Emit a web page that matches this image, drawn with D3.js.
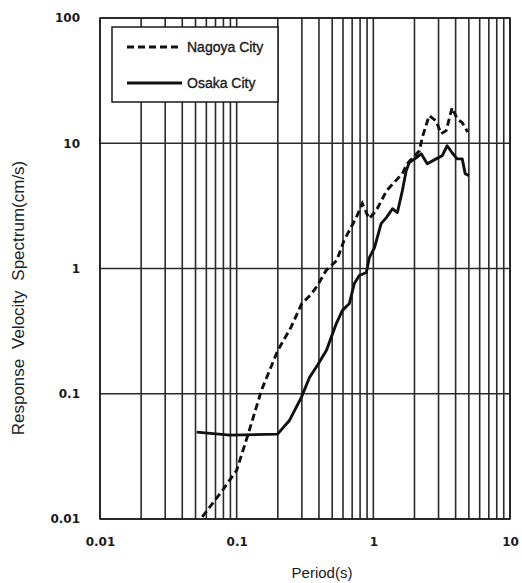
<!DOCTYPE html>
<html>
<head>
<meta charset="utf-8">
<script src="https://cdn.jsdelivr.net/npm/d3@7"></script>
<style>
  body { margin: 0; background: #fff; }
  svg { display: block; }
</style>
</head>
<body>
<svg id="chart"></svg>
<script>
// values
const nagoyaPeriod = [0.056, 0.079, 0.1, 0.122, 0.152, 0.2, 0.25, 0.3, 0.35, 0.39, 0.45, 0.54, 0.61, 0.75, 0.83, 0.93, 1.05, 1.25, 1.63, 1.77, 2.17, 2.28, 2.56, 2.88, 3.13, 3.41, 3.77, 4.1, 4.47, 4.9]
const nagoyaVel = [0.0104, 0.017, 0.0245, 0.0485, 0.107, 0.222, 0.34, 0.526, 0.62, 0.73, 0.96, 1.16, 1.67, 2.55, 3.3, 2.5, 2.9, 4.18, 5.72, 6.87, 8.7, 11.1, 16.6, 15.1, 11.9, 12.6, 19.2, 15.7, 14.6, 12.3]

const osakaPeriod = [0.051, 0.089, 0.199, 0.244, 0.298, 0.341, 0.39, 0.454, 0.537, 0.594, 0.668, 0.726, 0.79, 0.889, 0.935, 1.02, 1.14, 1.245, 1.38, 1.5, 1.63, 1.74, 1.83, 2.06, 2.24, 2.48, 2.88, 3.19, 3.47, 3.77, 4.1, 4.47, 4.7, 5.02]
const osakaVel = [0.0494, 0.0467, 0.0476, 0.0615, 0.094, 0.135, 0.169, 0.222, 0.365, 0.463, 0.526, 0.759, 0.879, 0.929, 1.22, 1.47, 2.28, 2.55, 3.0, 2.8, 4.18, 6.04, 7.0, 7.66, 8.24, 6.87, 7.5, 7.95, 9.55, 8.4, 7.5, 7.5, 5.72, 5.5]

const xTicks = [0.01, 0.1, 1, 10]
const yTicks = [0.01, 0.1, 1, 10, 100]
const xTickLabels = ['0.01', '0.1', '1', '10']
const yTickLabels = ['0.01', '0.1', '1', '10', '100']
const seriesNames = ['Nagoya City', 'Osaka City']

const W = 522, H = 583
const plot = { left: 100, right: 510, top: 18, bottom: 519 }
const ink = '#1a1a1a'
const dash = '7,4'

const svg = d3.select('#chart').attr('width', W).attr('height', H)

const x = d3.scaleLog().domain([0.01, 10]).range([plot.left, plot.right])
const y = d3.scaleLog().domain([0.01, 100]).range([plot.bottom, plot.top])

// vertical grid on every minor period, horizontal only on decades
svg.append('g').selectAll('line').data(x.ticks())
  .join('line')
  .attr('x1', d => x(d)).attr('x2', d => x(d))
  .attr('y1', plot.top).attr('y2', plot.bottom)
  .attr('stroke', '#2a2a2a').attr('stroke-width', 1.6)

svg.append('g').selectAll('line').data(yTicks)
  .join('line')
  .attr('x1', plot.left).attr('x2', plot.right)
  .attr('y1', d => y(d)).attr('y2', d => y(d))
  .attr('stroke', '#2a2a2a').attr('stroke-width', 1.3)

svg.append('rect')
  .attr('x', plot.left).attr('y', plot.top)
  .attr('width', plot.right - plot.left).attr('height', plot.bottom - plot.top)
  .attr('fill', 'none').attr('stroke', ink).attr('stroke-width', 1.5)

// axes (labels only)
const xAxis = svg.append('g')
  .attr('transform', 'translate(0,' + (plot.bottom + 15) + ')')
  .call(d3.axisBottom(x).tickValues(xTicks).tickSize(0).tickFormat((d, i) => xTickLabels[i]))
xAxis.select('.domain').remove()
xAxis.selectAll('text').attr('font-family', 'DejaVu Sans').attr('font-weight', 'bold')
  .attr('font-size', 12).attr('fill', ink)

const yAxis = svg.append('g')
  .attr('transform', 'translate(' + (plot.left - 17) + ',0)')
  .call(d3.axisLeft(y).tickValues(yTicks).tickSize(0).tickFormat((d, i) => yTickLabels[i]))
yAxis.select('.domain').remove()
yAxis.selectAll('text').attr('font-family', 'DejaVu Sans').attr('font-weight', 'bold')
  .attr('font-size', 12).attr('fill', ink)

// series
const line = d3.line().x(d => x(d[0])).y(d => y(d[1]))
const nagoya = d3.zip(nagoyaPeriod, nagoyaVel)
const osaka = d3.zip(osakaPeriod, osakaVel)

svg.append('path').datum(nagoya)
  .attr('d', line).attr('fill', 'none').attr('stroke', '#111')
  .attr('stroke-width', 2.9).attr('stroke-dasharray', dash)

svg.append('path').datum(osaka)
  .attr('d', line).attr('fill', 'none').attr('stroke', '#111')
  .attr('stroke-width', 2.9).attr('stroke-linejoin', 'round')

// legend
const lg = svg.append('g')
lg.append('rect').attr('x', 112).attr('y', 27).attr('width', 166).attr('height', 75)
  .attr('fill', '#fff').attr('stroke', ink).attr('stroke-width', 1.5)
const legendRows = [{ name: seriesNames[0], dash: dash, y: 47 }, { name: seriesNames[1], dash: null, y: 83 }]
legendRows.forEach(r => {
  lg.append('line').attr('x1', 127).attr('x2', 182).attr('y1', r.y).attr('y2', r.y)
    .attr('stroke', '#111').attr('stroke-width', 2.9).attr('stroke-dasharray', r.dash)
  lg.append('text').attr('x', 187).attr('y', r.y + 5).text(r.name)
    .attr('font-family', 'Liberation Sans').attr('font-size', 14).attr('fill', ink)
    .attr('stroke', ink).attr('stroke-width', 0.35)
})

// axis titles
svg.append('text').attr('x', (plot.left + plot.right) / 2 + 17).attr('y', 578)
  .attr('text-anchor', 'middle').attr('font-family', 'Liberation Sans').attr('font-size', 15)
  .attr('fill', ink).text('Period(s)')

svg.append('text')
  .attr('transform', 'translate(24,298) rotate(-90)')
  .attr('text-anchor', 'middle').attr('font-family', 'Liberation Sans').attr('font-size', 17)
  .attr('word-spacing', 5).attr('fill', '#222').text('Response Velocity Spectrum(cm/s)')
</script>
</body>
</html>
